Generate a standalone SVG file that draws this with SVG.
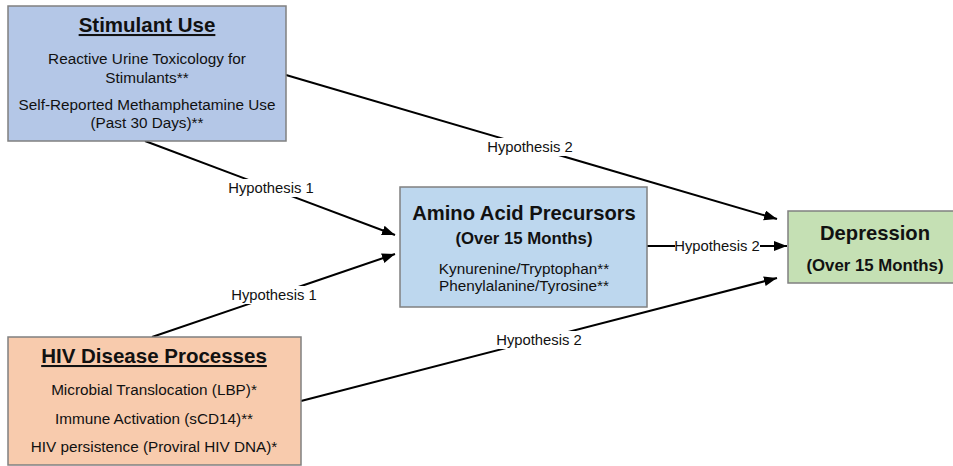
<svg xmlns="http://www.w3.org/2000/svg" width="953" height="466" viewBox="0 0 953 466">
<style>
text{font-family:"Liberation Sans",Arial,sans-serif;fill:#111;text-anchor:middle}
.box{stroke:#808080;stroke-width:1.5}
.t{font-weight:bold;font-size:20.5px;text-decoration:underline}
.h{font-weight:bold;font-size:20.2px}
.s{font-weight:bold;font-size:16.8px}
.b{font-size:15.3px}
.lbl{font-size:14.8px}
.c{stroke:#000;stroke-width:2;fill:none;marker-end:url(#ah)}
.bg{fill:#fff}
</style>
<defs>
<marker id="ah" markerUnits="userSpaceOnUse" markerWidth="14" markerHeight="11" refX="13" refY="5" orient="auto">
<path d="M0,0 L13,5 L0,10 z" fill="#000"/>
</marker>
</defs>
<rect width="953" height="466" fill="#fff"/>
<g id="connectors">
<line class="c" x1="286" y1="75" x2="777" y2="219"/>
<line class="c" x1="145" y1="141" x2="395" y2="235"/>
<line class="c" x1="152" y1="337" x2="395" y2="254"/>
<line class="c" x1="647" y1="246" x2="787" y2="246"/>
<line class="c" x1="301" y1="401" x2="777" y2="278"/>
<rect class="bg" x="486" y="138" width="88" height="18"/>
<text class="lbl" x="530" y="152">Hypothesis 2</text>
<rect class="bg" x="226" y="179" width="90" height="18"/>
<text class="lbl" x="271" y="193">Hypothesis 1</text>
<rect class="bg" x="229" y="286" width="90" height="18"/>
<text class="lbl" x="274" y="300">Hypothesis 1</text>
<rect class="bg" x="675" y="237" width="85" height="18"/>
<text class="lbl" x="717" y="251">Hypothesis 2</text>
<rect class="bg" x="495" y="331" width="88" height="18"/>
<text class="lbl" x="539" y="345">Hypothesis 2</text>
</g>
<g id="stimulant">
<rect class="box" x="8" y="6" width="278" height="135" fill="#b4c7e7"/>
<text class="t" x="147" y="32">Stimulant Use</text>
<text class="b" x="147" y="64">Reactive Urine Toxicology for</text>
<text class="b" x="147" y="83">Stimulants**</text>
<text class="b" x="147" y="110">Self-Reported Methamphetamine Use</text>
<text class="b" x="147" y="128">(Past 30 Days)**</text>
</g>
<g id="amino">
<rect class="box" x="400" y="187" width="247" height="120" fill="#bdd7ee"/>
<text class="h" x="524" y="220">Amino Acid Precursors</text>
<text class="s" x="524" y="244">(Over 15 Months)</text>
<text class="b" x="524" y="274">Kynurenine/Tryptophan**</text>
<text class="b" x="524" y="291">Phenylalanine/Tyrosine**</text>
</g>
<g id="depression">
<rect class="box" x="788" y="211" width="170" height="72" fill="#c5e0b4"/>
<text class="h" x="875" y="240">Depression</text>
<text class="s" x="875" y="271">(Over 15 Months)</text>
</g>
<g id="hiv">
<rect class="box" x="8" y="337" width="293" height="128" fill="#f8cbad"/>
<text class="t" x="154" y="363">HIV Disease Processes</text>
<text class="b" x="154" y="395">Microbial Translocation (LBP)*</text>
<text class="b" x="154" y="424">Immune Activation (sCD14)**</text>
<text class="b" x="154" y="452">HIV persistence (Proviral HIV DNA)*</text>
</g>
</svg>
